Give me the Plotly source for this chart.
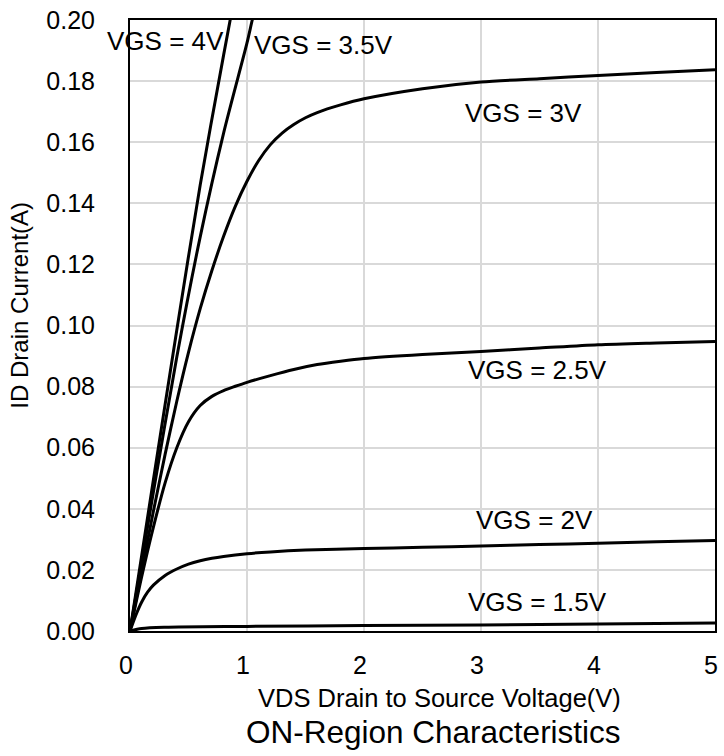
import plotly.graph_objects as go

# ---- data ----
vds_4v = [0, 0.2, 0.4, 0.6, 0.8, 0.9]
id_4v = [0, 0.0495, 0.0985, 0.146, 0.1885, 0.209]

vds_35v = [0, 0.2, 0.4, 0.6, 0.8, 1.0, 1.045, 1.1]
id_35v = [0, 0.0455, 0.0897, 0.1290, 0.1630, 0.1925, 0.2, 0.2085]

vds_3v = [0, 0.1, 0.2, 0.3, 0.4, 0.5, 0.6, 0.7, 0.8, 0.9, 1.0, 1.1, 1.2, 1.3, 1.4, 1.5, 1.6,
          1.8, 2.0, 2.5, 3.0, 3.5, 4.0, 4.5, 5.0]
id_3v = [0, 0.0198, 0.0392, 0.0578, 0.0752, 0.0912, 0.1055, 0.1180, 0.1292, 0.1390, 0.1472,
         0.1540, 0.1592, 0.1630, 0.1658, 0.1680, 0.1697, 0.1722, 0.1742, 0.1775, 0.1797,
         0.1808, 0.1818, 0.1828, 0.1837]

vds_25v = [0, 0.1, 0.2, 0.3, 0.4, 0.5, 0.6, 0.7, 0.8, 0.9, 1.0, 1.2, 1.4, 1.6, 1.8, 2.0,
           2.5, 3.0, 3.5, 4.0, 4.5, 5.0]
id_25v = [0, 0.0178, 0.0340, 0.0485, 0.0600, 0.0685, 0.0738, 0.0768, 0.0787, 0.0801, 0.0814,
          0.0836, 0.0856, 0.0872, 0.0883, 0.0892, 0.0905, 0.0915, 0.0926, 0.0937, 0.0943, 0.0948]

vds_2v = [0, 0.05, 0.1, 0.15, 0.2, 0.3, 0.4, 0.5, 0.6, 0.7, 0.8, 1.0, 1.2, 1.5, 2.0, 2.5,
          3.0, 3.5, 4.0, 4.5, 5.0]
id_2v = [0, 0.0052, 0.0095, 0.0127, 0.0150, 0.0182, 0.0203, 0.0219, 0.0230, 0.0238, 0.0244,
         0.0253, 0.0259, 0.0265, 0.0270, 0.0274, 0.0278, 0.0283, 0.0287, 0.0292, 0.0296]

vds_15v = [0, 0.1, 0.3, 1.0, 2.0, 3.0, 4.0, 5.0]
id_15v = [0, 0.0008, 0.0012, 0.0015, 0.0018, 0.0020, 0.0023, 0.0026]

labels = ["VGS = 4V", "VGS = 3.5V", "VGS = 3V", "VGS = 2.5V", "VGS = 2V", "VGS = 1.5V"]
label_x = [0.306, 1.657, 3.36, 3.48, 3.46, 3.48]
label_y = [0.1931, 0.1919, 0.1696, 0.0853, 0.0362, 0.0094]

x_ticks = [0, 1, 2, 3, 4, 5]
y_ticks = [0.00, 0.02, 0.04, 0.06, 0.08, 0.10, 0.12, 0.14, 0.16, 0.18, 0.20]

FONT = "Arial, 'Liberation Sans', sans-serif"

fig = go.Figure()
for xs, ys in [(vds_4v, id_4v), (vds_35v, id_35v), (vds_3v, id_3v),
               (vds_25v, id_25v), (vds_2v, id_2v), (vds_15v, id_15v)]:
    fig.add_trace(go.Scatter(x=xs, y=ys, mode="lines",
                             line=dict(color="black", width=3, shape="spline", smoothing=0.8),
                             showlegend=False, hoverinfo="skip"))

for t, lx, ly in zip(labels, label_x, label_y):
    fig.add_annotation(x=lx, y=ly, xref="x", yref="y", text=t, showarrow=False,
                       font=dict(family=FONT, size=26, color="black"),
                       xanchor="center", yanchor="middle", borderpad=0)

# axis titles and chart title as paper-positioned text (pixel positions converted below)
fig.add_annotation(x=441, y=698.5, xref="paper", yref="paper", text="VDS Drain to Source Voltage(V)",
                   showarrow=False, font=dict(family=FONT, size=25.5, color="black"),
                   xanchor="center", yanchor="middle", borderpad=0)
fig.add_annotation(x=435, y=732, xref="paper", yref="paper", text="ON-Region Characteristics",
                   showarrow=False, font=dict(family=FONT, size=31.5, color="black"),
                   xanchor="center", yanchor="middle", borderpad=0)
fig.add_annotation(x=18, y=304, xref="paper", yref="paper", text="ID Drain Current(A)", textangle=-90,
                   showarrow=False, font=dict(family=FONT, size=24, color="black"),
                   xanchor="center", yanchor="middle", borderpad=0)

W, H = 724, 756
ML, MR, MT, MB = 130, 6, 18, 125
pw, ph = W - ML - MR, H - MT - MB
for a in fig.layout.annotations:
    if a.xref == "paper":
        a.x = (a.x - ML) / pw
        a.y = (H - MB - a.y) / ph

fig.update_layout(
    width=W, height=H,
    margin=dict(l=ML, r=MR, t=MT, b=MB),
    plot_bgcolor="white", paper_bgcolor="white",
    font=dict(family=FONT, color="black"),
)
fig.update_xaxes(range=[0, 5], tickvals=x_ticks, ticktext=[str(v) for v in x_ticks],
                 showgrid=True, gridcolor="#d9d9d9", gridwidth=2,
                 showline=True, linecolor="black", linewidth=2, mirror=True,
                 ticks="", zeroline=False, tickfont=dict(size=25, family=FONT),
                 ticklabelstandoff=11, ticklabelshift=-4)
fig.update_yaxes(range=[0, 0.2], tickvals=y_ticks, ticktext=["%.2f" % v for v in y_ticks],
                 showgrid=True, gridcolor="#d9d9d9", gridwidth=2,
                 showline=True, linecolor="black", linewidth=2, mirror=True,
                 ticks="", zeroline=False, tickfont=dict(size=25, family=FONT),
                 ticklabelstandoff=28)

fig.write_html("out.html")
